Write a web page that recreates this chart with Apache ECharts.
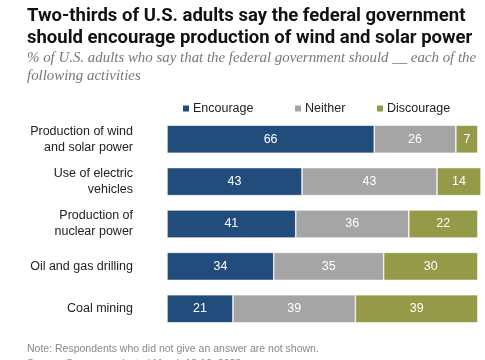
<!DOCTYPE html>
<html><head><meta charset="utf-8">
<script src="https://cdn.jsdelivr.net/npm/echarts@6/dist/echarts.min.js"></script>
<style>html,body{margin:0;padding:0;background:#fff}#c{width:485px;height:360px}</style>
</head><body><div id="c"></div>
<script>
const categories = ["Production of wind\nand solar power", "Use of electric\nvehicles", "Production of\nnuclear power", "Oil and gas drilling", "Coal mining"];
const encourage = [66, 43, 41, 34, 21];
const neither = [26, 43, 36, 35, 39];
const discourage = [7, 14, 22, 30, 39];
const seriesNames = ["Encourage", "Neither", "Discourage"];
const colors = ["#214c7c", "#a5a5a5", "#949a48"];

const chart = echarts.init(document.getElementById('c'));
const lbl = {show: true, position: 'inside', color: '#fff', fontSize: 12.5, fontFamily: 'Liberation Sans'};
function mk(name, data, color) {
  return {name, type: 'bar', stack: 'a', data, barWidth: 28, itemStyle: {color, borderColor: '#fff', borderWidth: 0.6}, label: lbl, emphasis: {disabled: true}};
}
function lg(name, left) {
  return {data: [name], left, top: 97, itemWidth: 8, itemHeight: 8, icon: 'rect', selectedMode: false,
    textStyle: {fontSize: 12.5, color: '#222', fontFamily: 'Liberation Sans', padding: [0,0,0,-2]}};
}
chart.setOption({
  animation: false,
  color: colors,
  title: [
    {text: "Two-thirds of U.S. adults say the federal government\nshould encourage production of wind and solar power", left: 27, top: 5, padding: 0,
     textStyle: {fontSize: 18.5, fontWeight: 'bold', color: '#111', fontFamily: 'Roboto', lineHeight: 22}},
    {text: "% of U.S. adults who say that the federal government should __ each of the\nfollowing activities", left: 27, top: 49, padding: 0,
     textStyle: {fontSize: 14.9, fontStyle: 'italic', fontWeight: 'normal', color: '#777', fontFamily: 'Liberation Serif', lineHeight: 18}},
    {text: "Note: Respondents who did not give an answer are not shown.\nSource: Survey conducted March 13-19, 2023.", left: 27, top: 342, padding: 0,
     textStyle: {fontSize: 10.5, fontWeight: 'normal', color: '#888', fontFamily: 'Liberation Sans', lineHeight: 15}}
  ],
  legend: [lg("Encourage", 176), lg("Neither", 288), lg("Discourage", 370)],
  grid: {left: 167, right: 4, top: 118, bottom: 30, containLabel: false},
  xAxis: {type: 'value', min: 0, max: 100, show: false},
  yAxis: {type: 'category', data: categories, inverse: true,
    axisLine: {show: false}, axisTick: {show: false},
    axisLabel: {margin: 34, fontSize: 12.5, color: '#222', fontFamily: 'Liberation Sans', lineHeight: 16, align: 'right'}},
  series: [mk(seriesNames[0], encourage, colors[0]), mk(seriesNames[1], neither, colors[1]), mk(seriesNames[2], discourage, colors[2])]
});
</script></body></html>
